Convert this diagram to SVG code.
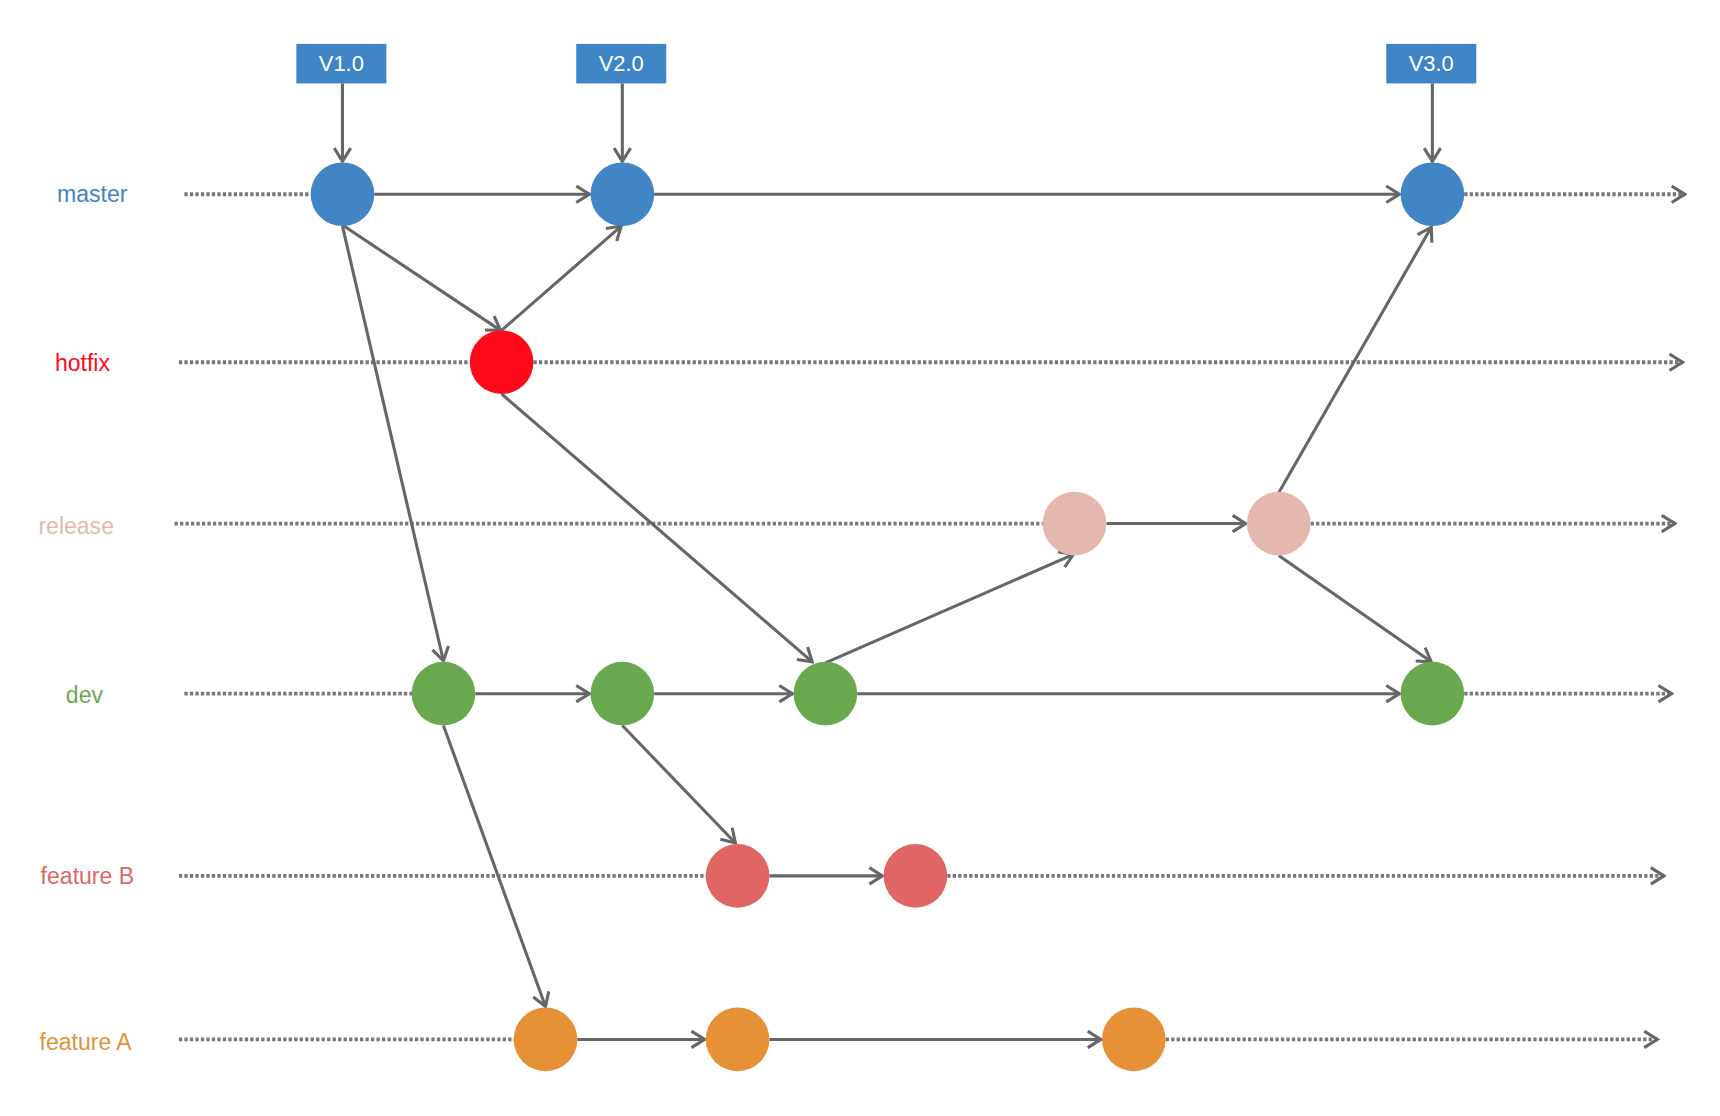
<svg xmlns="http://www.w3.org/2000/svg" width="1720" height="1116" viewBox="0 0 1720 1116">
<defs>
<marker id="ah" markerUnits="userSpaceOnUse" markerWidth="16" markerHeight="18" viewBox="0 0 16 18" refX="14" refY="9" orient="auto">
<path d="M2,1.5 L14,9 L2,16.5" fill="none" stroke="#666" stroke-width="2.8"/>
</marker>
</defs>
<style>
.lbl{font-family:"Liberation Sans",Arial,sans-serif;font-size:21px;dominant-baseline:central}
.tag{fill:#3F85C5}
.tagt{font-family:"Liberation Sans",Arial,sans-serif;font-size:20px;fill:#fff;text-anchor:middle;dominant-baseline:central}
.dot{stroke:#777;stroke-width:3.5;stroke-dasharray:3 2;fill:none}
.ln{stroke:#666;stroke-width:2.8;fill:none;marker-end:url(#ah)}
.m{fill:#4185C4}.h{fill:#FF0A1A}.r{fill:#E4B8AF}.d{fill:#6AA84F}.fb{fill:#E06666}.fa{fill:#E69138}
</style>
<rect width="1720" height="1116" fill="#fff"/>
<g transform="scale(1.0976)">
<g id="labels">
<text class="lbl" x="52" y="177" fill="#3F85C5">master</text>
<text class="lbl" x="50" y="331" fill="#FF0A1A">hotfix</text>
<text class="lbl" x="35" y="479" fill="#E4B8AF">release</text>
<text class="lbl" x="60" y="633" fill="#6AA84F">dev</text>
<text class="lbl" x="37" y="798" fill="#E06666">feature B</text>
<text class="lbl" x="36" y="949" fill="#E69138">feature A</text>
</g>
<g id="tags">
<g id="tagV1"><rect class="tag" x="270" y="40" width="82" height="36"/><text class="tagt" x="311" y="58">V1.0</text></g>
<g id="tagV2"><rect class="tag" x="525" y="40" width="82" height="36"/><text class="tagt" x="566" y="58">V2.0</text></g>
<g id="tagV3"><rect class="tag" x="1263" y="40" width="82" height="36"/><text class="tagt" x="1304" y="58">V3.0</text></g>
</g>
<g id="connectors">
<path class="dot" d="M168,177H283"/><path class="dot" d="M1334,177H1535" marker-end="url(#ah)"/>
<path class="dot" d="M163,330H428"/><path class="dot" d="M486,330H1533" marker-end="url(#ah)"/>
<path class="dot" d="M159,477H950"/><path class="dot" d="M1194,477H1526" marker-end="url(#ah)"/>
<path class="dot" d="M168,632H376"/><path class="dot" d="M1334,632H1523" marker-end="url(#ah)"/>
<path class="dot" d="M163,798H644"/><path class="dot" d="M863,798H1516" marker-end="url(#ah)"/>
<path class="dot" d="M163,947H469"/><path class="dot" d="M1062,947H1510" marker-end="url(#ah)"/>
<path class="ln" d="M312,76V147"/>
<path class="ln" d="M567,76V147"/>
<path class="ln" d="M1305,76V147"/>
<path class="ln" d="M341,177H537"/>
<path class="ln" d="M596,177H1275"/>
<path class="ln" d="M312,205L456,301"/>
<path class="ln" d="M457,301L566,206"/>
<path class="ln" d="M312,206L404,602"/>
<path class="ln" d="M457,359L740,603"/>
<path class="ln" d="M752,604L978,505"/>
<path class="ln" d="M1008,477H1135"/>
<path class="ln" d="M1165,449L1304,207"/>
<path class="ln" d="M1165,506L1304,603"/>
<path class="ln" d="M433,632H537"/>
<path class="ln" d="M596,632H722"/>
<path class="ln" d="M781,632H1275"/>
<path class="ln" d="M404,661L497,917"/>
<path class="ln" d="M567,661L670,768"/>
<path class="ln" d="M701,798H804"/>
<path class="ln" d="M526,947H642"/>
<path class="ln" d="M701,947H1003"/>
</g>
<g id="master1"><circle class="m" cx="312" cy="177" r="29"/></g>
<g id="master2"><circle class="m" cx="567" cy="177" r="29"/></g>
<g id="master3"><circle class="m" cx="1305" cy="177" r="29"/></g>
<g id="hotfix1"><circle class="h" cx="457" cy="330" r="29"/></g>
<g id="release1"><circle class="r" cx="979" cy="477" r="29"/></g>
<g id="release2"><circle class="r" cx="1165" cy="477" r="29"/></g>
<g id="dev1"><circle class="d" cx="404" cy="632" r="29"/></g>
<g id="dev2"><circle class="d" cx="567" cy="632" r="29"/></g>
<g id="dev3"><circle class="d" cx="752" cy="632" r="29"/></g>
<g id="dev4"><circle class="d" cx="1305" cy="632" r="29"/></g>
<g id="featureB1"><circle class="fb" cx="672" cy="798" r="29"/></g>
<g id="featureB2"><circle class="fb" cx="834" cy="798" r="29"/></g>
<g id="featureA1"><circle class="fa" cx="497" cy="947" r="29"/></g>
<g id="featureA2"><circle class="fa" cx="672" cy="947" r="29"/></g>
<g id="featureA3"><circle class="fa" cx="1033" cy="947" r="29"/></g>
</g>
</svg>
